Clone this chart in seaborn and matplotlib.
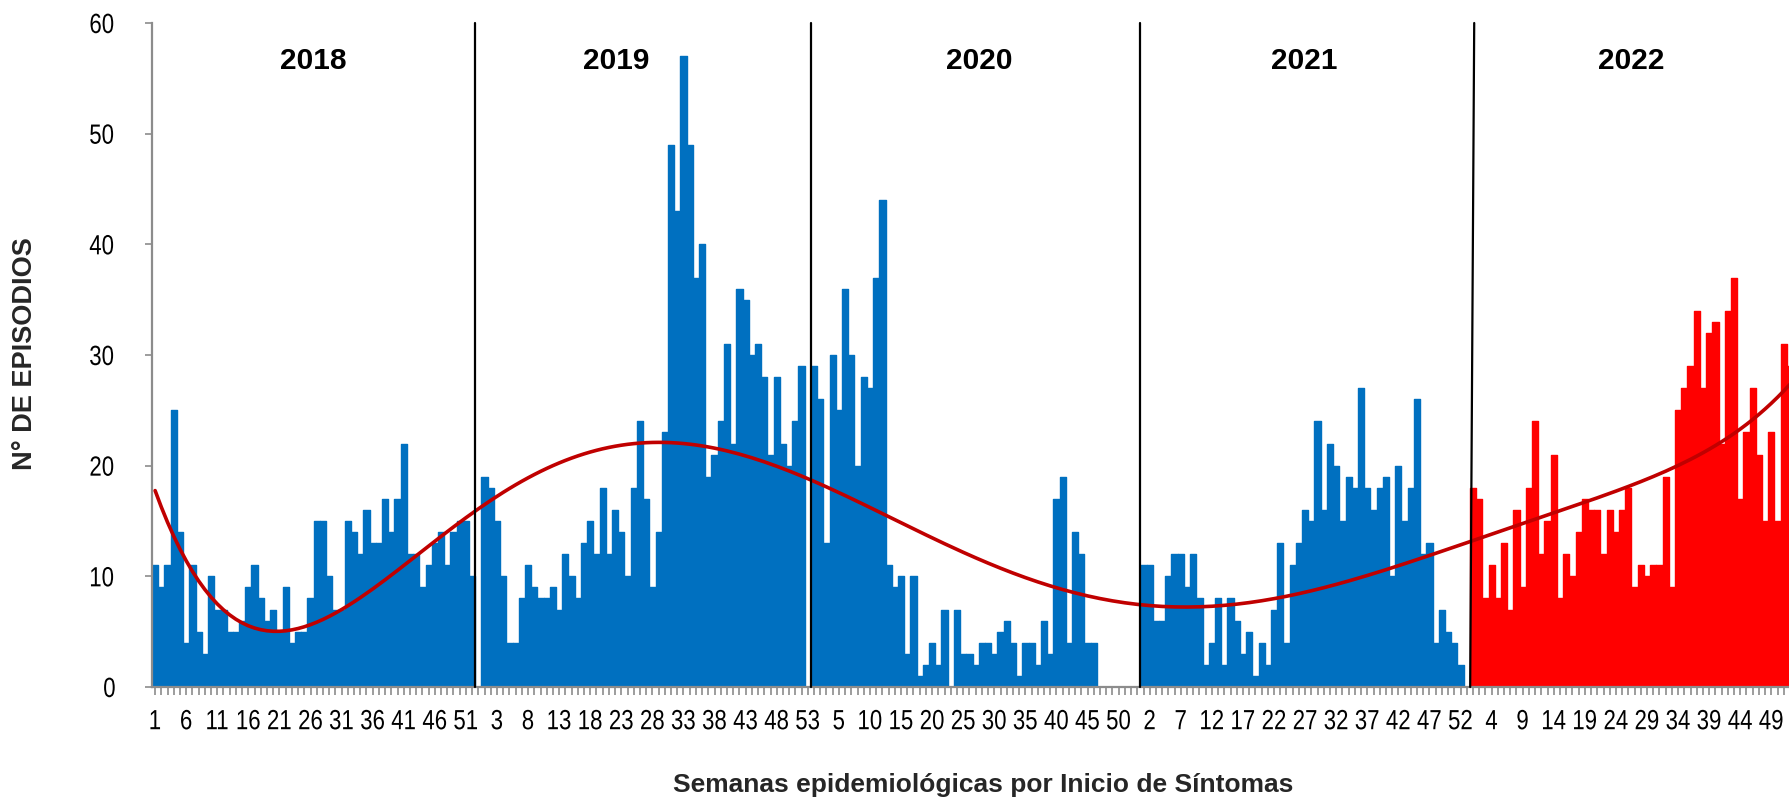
import numpy as np
import pandas as pd
import matplotlib
matplotlib.use("Agg")
import matplotlib.pyplot as plt
from matplotlib.patheffects import AbstractPathEffect
from matplotlib.transforms import Affine2D
import seaborn as sns

# Weekly episodes by epidemiological week of symptom onset (53 slots per year)
years = ["2018", "2019", "2020", "2021", "2022"]
cases_2018 = [11, 9, 11, 25, 14, 4, 11, 5, 3, 10, 7, 7, 5, 5, 6, 9, 11, 8, 6, 7,
              5, 9, 4, 5, 5, 8, 15, 15, 10, 7, 7, 15, 14, 12, 16, 13, 13, 17, 14, 17,
              22, 12, 12, 9, 11, 13, 14, 11, 14, 15, 15, 10, 0]
cases_2019 = [19, 18, 15, 10, 4, 4, 8, 11, 9, 8, 8, 9, 7, 12, 10, 8, 13, 15, 12, 18,
              12, 16, 14, 10, 18, 24, 17, 9, 14, 23, 49, 43, 57, 49, 37, 40, 19, 21, 24, 31,
              22, 36, 35, 30, 31, 28, 21, 28, 22, 20, 24, 29, 0]
cases_2020 = [29, 26, 13, 30, 25, 36, 30, 20, 28, 27, 37, 44, 11, 9, 10, 3, 10, 1, 2, 4,
              2, 7, 0, 7, 3, 3, 2, 4, 4, 3, 5, 6, 4, 1, 4, 4, 2, 6, 3, 17,
              19, 4, 14, 12, 4, 4, 0, 0, 0, 0, 0, 0, 0]
cases_2021 = [11, 11, 6, 6, 10, 12, 12, 9, 12, 8, 2, 4, 8, 2, 8, 6, 3, 5, 1, 4,
              2, 7, 13, 4, 11, 13, 16, 15, 24, 16, 22, 20, 15, 19, 18, 27, 18, 16, 18, 19,
              10, 20, 15, 18, 26, 12, 13, 4, 7, 5, 4, 2, 0]
cases_2022 = [18, 17, 8, 11, 8, 13, 7, 16, 9, 18, 24, 12, 15, 21, 8, 12, 10, 14, 17, 16,
              16, 12, 16, 14, 16, 18, 9, 11, 10, 11, 11, 19, 9, 25, 27, 29, 34, 27, 32, 33,
              22, 34, 37, 17, 23, 27, 21, 15, 23, 15, 31, 29]

series = [cases_2018, cases_2019, cases_2020, cases_2021, cases_2022]
year_colors = {"2018": "#0070C0", "2019": "#0070C0", "2020": "#0070C0",
               "2021": "#0070C0", "2022": "#FF0000"}


class Narrow(AbstractPathEffect):
    """Draw glyphs horizontally condensed around their own centre."""

    def __init__(self, sx=0.8):
        super().__init__()
        self.sx = sx

    def draw_path(self, renderer, gc, tpath, affine, rgbFace=None):
        verts = tpath.vertices
        cx = (verts[:, 0].min() + verts[:, 0].max()) / 2 if len(verts) else 0.0
        squeeze = Affine2D().translate(-cx, 0).scale(self.sx, 1.0).translate(cx, 0)
        renderer.draw_path(gc, tpath, squeeze + affine, rgbFace)


rows = []
for yr, vals in zip(years, series):
    for wk, v in enumerate(vals, start=1):
        rows.append((yr, wk, v))
df = pd.DataFrame(rows, columns=["year", "week", "cases"])
df["pos"] = np.arange(len(df))

sns.set_theme(style="white")
plt.rcParams["font.family"] = ["Liberation Sans", "DejaVu Sans"]

fig = plt.figure(figsize=(17.9, 7.98), dpi=100)
ax = fig.add_axes([152 / 1790, 111 / 798, 1638 / 1790, 664 / 798])

sns.barplot(data=df, x="pos", y="cases", hue="year", palette=year_colors,
            native_scale=True, width=1.0, dodge=False, legend=False,
            saturation=1, errorbar=None, ax=ax, zorder=2)
for p in ax.patches:
    if p.get_height() <= 0:
        p.set_visible(False)
    else:
        p.set_edgecolor(p.get_facecolor())
        p.set_linewidth(1.0)
        p.set_joinstyle("round")

# 6th-order polynomial trend over the whole series
x_idx = np.arange(1, len(df) + 1)
trend = np.polynomial.Polynomial.fit(x_idx, df["cases"].to_numpy(), deg=6)
ax.plot(df["pos"], trend(x_idx), color="#C00000", lw=2.6, zorder=4,
        solid_capstyle="round")

# Year separators and year titles
for xs in [51.5, 105.5, 158.5]:
    ax.plot([xs, xs], [0, 60], color="black", lw=1.6, zorder=5, clip_on=False)
ax.plot([211.55, 212.2], [0, 60], color="black", lw=1.6, zorder=5, clip_on=False)

year_label_x = [25.5, 74.1, 132.5, 184.9, 237.4]
for yr, xl in zip(years, year_label_x):
    ax.text(xl, 56.6, yr, ha="center", va="center", fontsize=21.5,
            fontweight="bold", color="black", zorder=6)

ax.set_xlim(-0.5, -0.5 + 1638 / 6.22)
ax.set_ylim(0, 60)
ax.set_yticks(np.arange(0, 61, 10))

major = df[df["pos"] % 5 == 0]
ax.set_xticks(major["pos"].to_numpy())
ax.set_xticklabels([str(w) for w in major["week"]])
ax.set_xticks(df["pos"].to_numpy(), minor=True)

narrow = Narrow(0.8)
for lab in ax.get_xticklabels() + ax.get_yticklabels():
    lab.set_fontsize(20)
    lab.set_color("black")
    lab.set_path_effects([narrow])

ax.tick_params(axis="x", which="both", length=6, width=1.2, color="#8C8C8C",
               direction="out", bottom=True, pad=10)
ax.tick_params(axis="y", which="major", length=5, width=1.2, color="#8C8C8C",
               direction="out", left=True, pad=20)

for side in ["top", "right"]:
    ax.spines[side].set_visible(False)
for side in ["left", "bottom"]:
    ax.spines[side].set_color("#8C8C8C")
    ax.spines[side].set_linewidth(1.6)
ax.set_xlabel("")
ax.set_ylabel("")
ax.grid(False)

fig.text(25 / 1790, 1 - 354 / 798, "N° DE EPISODIOS", rotation=90,
         ha="center", va="center", fontsize=19.5, fontweight="bold")
fig.text(983 / 1790, 1 - 785 / 798, "Semanas epidemiológicas por Inicio de Síntomas",
         ha="center", va="center", fontsize=19, fontweight="bold")

fig.savefig("out.png", dpi=100, facecolor="white")
